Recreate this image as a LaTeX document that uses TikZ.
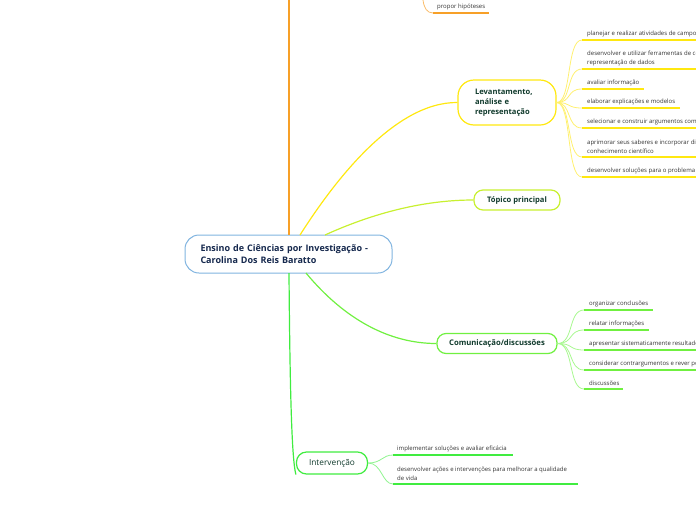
\documentclass[tikz,border=0pt]{standalone}
\usepackage{fontspec}
\setmainfont{Open Sans}
\definecolor{corange}{HTML}{F7A028}
\definecolor{cyellow}{HTML}{FFE810}
\definecolor{cyellowl}{HTML}{FFF070}
\definecolor{cygreen}{HTML}{C8F030}
\definecolor{cgreen}{HTML}{70F040}
\definecolor{cgreenl}{HTML}{A8F890}
\definecolor{cigreen}{HTML}{40EC40}
\definecolor{cigreenl}{HTML}{90F490}
\definecolor{cblue}{HTML}{80B4E0}
\definecolor{cnavy}{HTML}{15284D}
\definecolor{cteal}{HTML}{103A2C}
\definecolor{cleaf}{HTML}{333333}
\begin{document}
\begin{tikzpicture}[x=1pt,y=-1pt,
  central/.style={draw=cblue,line width=1pt,rounded corners=14pt,fill=white,text=cnavy,
    font=\fontsize{9}{11.5}\selectfont\bfseries,align=left,inner sep=0pt,
    minimum width=207pt,minimum height=38pt,text width=176pt},
  branch/.style={line width=1.2pt,fill=white,text=cteal,inner sep=0pt,align=left},
  leaf/.style={anchor=south west,inner sep=0pt,text=cleaf,font=\fontsize{6}{9}\selectfont,align=left},
  uline/.style={line width=1.5pt},
  thin/.style={line width=0.8pt}]
\useasboundingbox (0,0) rectangle (696,520);
\clip (0,0) rectangle (696,520);

% central node
\node[central] (c) at (288.5,254) {Ensino de Ciências por Investigação -\\Carolina Dos Reis Baratto};

% orange branch (off-picture)
\coordinate (otop) at (289,0);
\draw[corange,line width=1.3pt] (c.north -| otop) -- (otop);
\coordinate (o0) at (423,0);
\coordinate (o1) at (433,13);
\coordinate (o2) at (489,13);
\draw[corange!70,thin] (o0) .. controls (424,8) and (427,13) .. (o1);
\draw[corange,uline] (o1) -- (o2);
\node[leaf] (op) at (437,10) {propor hipóteses};

% Levantamento
\node[branch,draw=cyellow,rounded corners=16pt,minimum width=98pt,minimum height=45pt,
  text width=64pt,font=\fontsize{7.6}{10.3}\selectfont\bfseries] (lev) at (507,102.5)
  {Levantamento,\\análise e\\representação};
\coordinate (y0) at (300,235);
\draw[cyellow,line width=1.2pt] (y0) .. controls (335,180) and (395,102) .. (lev.west);

% Topico principal
\node[branch,draw=cygreen,rounded corners=9pt,minimum width=86pt,minimum height=20pt,
  font=\fontsize{7.6}{9}\selectfont\bfseries,align=center] (top) at (517,200) {Tópico principal};
\coordinate (g0) at (325,235);
\draw[cygreen,line width=1.2pt] (g0) .. controls (380,210) and (430,200) .. (top.west);

% Comunicacao
\node[branch,draw=cgreen,rounded corners=9pt,minimum width=120pt,minimum height=20pt,
  font=\fontsize{7.7}{9}\selectfont\bfseries,align=center] (com) at (497,343.5) {Comunicação/discussões};
\coordinate (m0) at (306,273);
\draw[cgreen,line width=1.2pt] (m0) .. controls (345,320) and (390,343.5) .. (com.west);

% Intervencao
\node[branch,draw=cigreen,rounded corners=10pt,minimum width=71pt,minimum height=22pt,
  font=\fontsize{8.3}{9}\selectfont,align=center] (int) at (332,463) {Intervenção};
\coordinate (i0) at (289,273);
\draw[cigreen,line width=1.2pt] (i0) .. controls (290,400) and (292,460) .. (int.south west);

% Levantamento leaves
\foreach \n/\yy/\xe in {1/40/700,2/69/700,3/89/644,4/108/680,5/128/700,6/157/700,7/177/700}{
  \coordinate (ls\n) at (582,\yy);
  \coordinate (le\n) at (\xe,\yy);
  \draw[cyellowl,thin] (lev.east) .. controls (572,102.5) and (566,\yy) .. (ls\n);
  \draw[cyellow,uline] (ls\n) -- (le\n);
}
\node[leaf] (lv1) at (587,37) {planejar e realizar atividades de campo};
\node[leaf] (lv2) at (587,66) {desenvolver e utilizar ferramentas de coleta,\\representação de dados};
\node[leaf] (lv3) at (587,86) {avaliar informação};
\node[leaf] (lv4) at (587,105) {elaborar explicações e modelos};
\node[leaf] (lv5) at (587,125) {selecionar e construir argumentos com base};
\node[leaf] (lv6) at (587,154) {aprimorar seus saberes e incorporar diferentes\\conhecimento científico};
\node[leaf] (lv7) at (587,174) {desenvolver soluções para o problema};

% Comunicacao leaves
\foreach \n/\yy/\xe in {1/310/653,2/330/649,3/350/700,4/370/700,5/389/623}{
  \coordinate (cs\n) at (584,\yy);
  \coordinate (ce\n) at (\xe,\yy);
  \draw[cgreenl,thin] (com.east) .. controls (574,343.5) and (568,\yy) .. (cs\n);
  \draw[cgreen,uline] (cs\n) -- (ce\n);
}
\node[leaf] (cv1) at (589,307) {organizar conclusões};
\node[leaf] (cv2) at (589,327) {relatar informações};
\node[leaf] (cv3) at (589,347) {apresentar sistematicamente resultados};
\node[leaf] (cv4) at (589,367) {considerar contrargumentos e rever posições};
\node[leaf] (cv5) at (589,386) {discussões};

% Intervencao leaves
\coordinate (is1) at (393,455);
\coordinate (ie1) at (513,455);
\coordinate (is2) at (393,484);
\coordinate (ie2) at (578,484);
\draw[cigreenl,thin] (int.east) .. controls (382,463) and (382,455) .. (is1);
\draw[cigreenl,thin] (int.east) .. controls (382,463) and (382,484) .. (is2);
\draw[cigreen,uline] (is1) -- (ie1);
\draw[cigreen,uline] (is2) -- (ie2);
\node[leaf] (iv1) at (397,452) {implementar soluções e avaliar eficácia};
\node[leaf] (iv2) at (397,481) {desenvolver ações e intervenções para melhorar a qualidade\\de vida};
\end{tikzpicture}
\end{document}
